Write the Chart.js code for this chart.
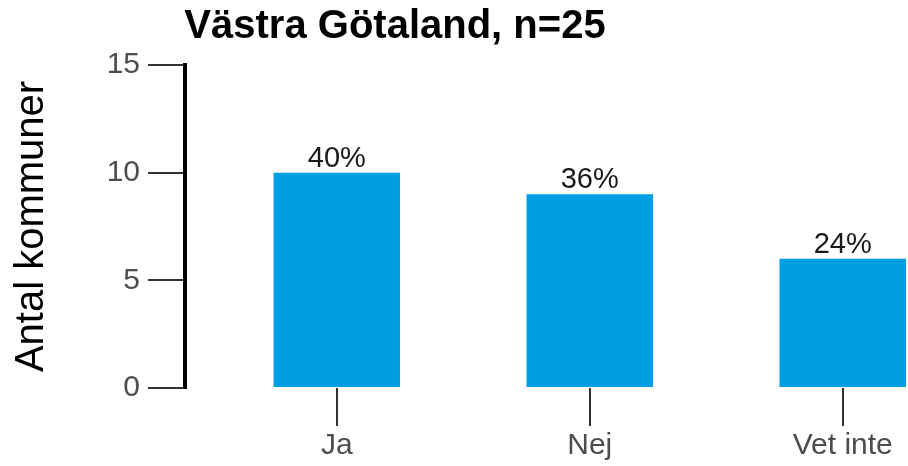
<!DOCTYPE html>
<html>
<head>
<meta charset="utf-8">
<script src="https://cdn.jsdelivr.net/npm/chart.js@4/dist/chart.umd.min.js"></script>
<style>
    body { margin: 0; background: #fff; }
    #wrap { width: 908px; height: 466px; }
</style>
</head>
<body>
<div id="wrap"><canvas id="chart" width="908" height="466"></canvas></div>
<script>
// Chart data
const titleText = 'Västra Götaland, n=25';
const categories = ['Ja', 'Nej', 'Vet inte'];
const counts = [10, 9, 6];
const pctLabels = ['40%', '36%', '24%'];
const yTicks = [0, 5, 10, 15];

const fontFamily = "'Liberation Sans', Arial, sans-serif";
const barColor = '#009FE3';
const tickColor = '#4D4D4D';

// Title drawn over the left part of the chart like the original
const titlePlugin = {
    id: 'leftTitle',
    afterDraw(chart) {
        const ctx = chart.ctx;
        ctx.save();
        ctx.font = `bold 40px ${fontFamily}`;
        ctx.fillStyle = '#000';
        ctx.textAlign = 'center';
        ctx.textBaseline = 'alphabetic';
        ctx.fillText(titleText, 395, 38);
        ctx.restore();
    }
};

// Percent labels above each bar
const barLabelPlugin = {
    id: 'barLabels',
    afterDatasetsDraw(chart) {
        const ctx = chart.ctx;
        const meta = chart.getDatasetMeta(0);
        ctx.save();
        ctx.font = `29px ${fontFamily}`;
        ctx.fillStyle = '#1a1a1a';
        ctx.textAlign = 'center';
        ctx.textBaseline = 'alphabetic';
        meta.data.forEach((bar, i) => {
            ctx.fillText(pctLabels[i], bar.x, bar.y - 6);
        });
        ctx.restore();
    }
};

const ctx = document.getElementById('chart').getContext('2d');
new Chart(ctx, {
    type: 'bar',
    data: {
        datasets: [{
            data: counts.map((c, i) => ({ x: i + 1, y: c })),
            backgroundColor: barColor,
            borderWidth: 0,
            barPercentage: 0.5,
            categoryPercentage: 1
        }]
    },
    options: {
        responsive: false,
        animation: false,
        layout: { padding: { top: 65, left: 0, right: 0, bottom: 0 } },
        plugins: {
            legend: { display: false },
            tooltip: { enabled: false }
        },
        scales: {
            x: {
                type: 'linear',
                offset: false,
                min: 0.4,
                max: 3.258,
                afterBuildTicks: axis => {
                    axis.ticks = categories.map((_, i) => ({ value: i + 1 }));
                },
                afterFit: axis => { axis.height = 78; },
                border: { display: false },
                grid: {
                    offset: false,
                    drawOnChartArea: false,
                    drawTicks: true,
                    tickLength: 38,
                    color: '#333',
                    lineWidth: 2
                },
                ticks: {
                    padding: 2,
                    color: tickColor,
                    font: { family: fontFamily, size: 30 },
                    maxRotation: 0,
                    autoSkip: false,
                    callback: value => categories[value - 1]
                }
            },
            y: {
                min: 0,
                max: 15,
                afterBuildTicks: axis => {
                    axis.ticks = yTicks.map(v => ({ value: v }));
                },
                afterFit: axis => { axis.width = 185; },
                border: { display: true, color: '#000', width: 4 },
                grid: {
                    drawOnChartArea: false,
                    drawTicks: true,
                    tickLength: 37,
                    color: '#333',
                    lineWidth: 2
                },
                ticks: {
                    padding: 8,
                    color: tickColor,
                    font: { family: fontFamily, size: 30 }
                },
                title: {
                    display: true,
                    text: 'Antal kommuner',
                    color: '#000',
                    font: { family: fontFamily, size: 40 },
                    padding: { top: 8, bottom: 0 }
                }
            }
        }
    },
    plugins: [titlePlugin, barLabelPlugin]
});
</script>
</body>
</html>
